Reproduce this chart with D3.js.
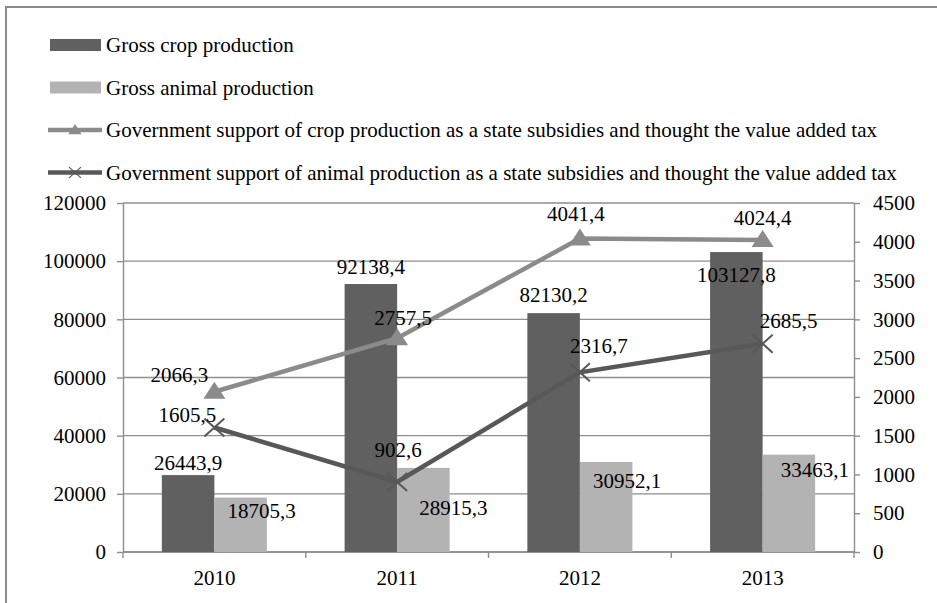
<!DOCTYPE html>
<html>
<head>
<meta charset="utf-8">
<script src="https://cdn.jsdelivr.net/npm/d3@7"></script>
<style>
  body { margin: 0; background: #fff; }
</style>
</head>
<body>
<div id="chart"></div>
<script>
// data
const years = ["2010", "2011", "2012", "2013"];
const grossCrop = [26443.9, 92138.4, 82130.2, 103127.8];
const grossAnimal = [18705.3, 28915.3, 30952.1, 33463.1];
const supportCrop = [2066.3, 2757.5, 4041.4, 4024.4];
const supportAnimal = [1605.5, 902.6, 2316.7, 2685.5];
const leftTicks = [0, 20000, 40000, 60000, 80000, 100000, 120000];
const rightTicks = [0, 500, 1000, 1500, 2000, 2500, 3000, 3500, 4000, 4500];
const legendNames = [
  "Gross crop production",
  "Gross animal production",
  "Government support of crop production as a state subsidies and thought the value added tax",
  "Government support of animal production as a state subsidies and thought the value added tax"
];

// label nudges (dx, dy) the way they sit in the picture
const cropBarNudge = [[0, -5], [0, -10], [0, -11], [0, 30]];
const animalBarNudge = [[21, 20], [30, 47], [21, 26], [26, 22]];
const cropLineNudge = [[-35, -10], [6, -13], [-4, -18], [0, -15]];
const animalLineNudge = [[-27, -5], [1, -25], [19, -19], [26, -16]];

const darkBar = "#606060", lightBar = "#b3b3b3";
const cropLineCol = "#8b8b8b", animalLineCol = "#585858";
const gridCol = "#8e8e8e";
const font = "Liberation Serif";

const W = 937, H = 603;
const margin = { top: 203, left: 123, right: 83, bottom: 51 };
const width = W - margin.left - margin.right;
const height = H - margin.top - margin.bottom;
const fs = 21;

const svg = d3.select("#chart").append("svg").attr("width", W).attr("height", H)
  .attr("font-family", font);

// frame
svg.append("path")
  .attr("d", `M6,${H} V7 H${W}`)
  .attr("fill", "none").attr("stroke", "#8a8a8a").attr("stroke-width", 2);

const g = svg.append("g").attr("transform", `translate(${margin.left},${margin.top})`);

const x = d3.scaleBand().domain(years).range([0, width]).padding(0);
const xs = d3.scaleBand().domain(["crop", "animal"]).range([0, x.bandwidth()])
  .paddingInner(0).paddingOuter(0.74);
const yL = d3.scaleLinear().domain([0, 120000]).range([height, 0]);
const yR = d3.scaleLinear().domain([0, 4500]).range([height, 0]);

// grid lines
g.append("g").selectAll("line").data(leftTicks).join("line")
  .attr("x1", 0).attr("x2", width)
  .attr("y1", d => yL(d)).attr("y2", d => yL(d))
  .attr("stroke", gridCol).attr("stroke-width", 1.4);

function styleAxis(ax) {
  ax.attr("font-family", font);
  ax.selectAll("text").attr("font-size", fs).attr("fill", "#000")
    .style("font-family", font);
  ax.selectAll("line, path").attr("stroke", gridCol).attr("stroke-width", 1.4);
}

// left axis
const axL = g.append("g").call(d3.axisLeft(yL).tickValues(leftTicks).tickFormat(d3.format("d"))
  .tickSize(6).tickSizeOuter(0).tickPadding(11));
styleAxis(axL);

// right axis
const axR = g.append("g").attr("transform", `translate(${width},0)`)
  .call(d3.axisRight(yR).tickValues(rightTicks).tickFormat(d3.format("d"))
    .tickSize(6).tickSizeOuter(0).tickPadding(13));
styleAxis(axR);

// bottom axis: ticks on category boundaries
const axB = g.append("g").attr("transform", `translate(0,${height})`);
axB.append("line").attr("x1", 0).attr("x2", width)
  .attr("stroke", gridCol).attr("stroke-width", 1.4);
const bounds = years.map(d => x(d)).concat([width]);
axB.selectAll("line.tk").data(bounds).join("line").attr("class", "tk")
  .attr("x1", d => d).attr("x2", d => d).attr("y1", 0).attr("y2", 6)
  .attr("stroke", gridCol).attr("stroke-width", 1.4);
axB.selectAll("text").data(years).join("text")
  .attr("x", d => x(d) + x.bandwidth() / 2).attr("y", 33)
  .attr("text-anchor", "middle").attr("font-size", fs).style("font-family", font).text(d => d);

// bars
const fmt = v => String(v).replace(".", ",");
const barSets = [
  { key: "crop", vals: grossCrop, col: darkBar, nudge: cropBarNudge },
  { key: "animal", vals: grossAnimal, col: lightBar, nudge: animalBarNudge }
];
barSets.forEach(s => {
  g.append("g").selectAll("rect").data(s.vals).join("rect")
    .attr("x", (d, i) => x(years[i]) + xs(s.key))
    .attr("y", d => yL(d))
    .attr("width", xs.bandwidth())
    .attr("height", d => height - yL(d))
    .attr("fill", s.col);
});

// lines
const lineSets = [
  { vals: supportCrop, col: cropLineCol, marker: "tri", nudge: cropLineNudge },
  { vals: supportAnimal, col: animalLineCol, marker: "x", nudge: animalLineNudge }
];
const cx = i => x(years[i]) + x.bandwidth() / 2;
const line = d3.line().x((d, i) => cx(i)).y(d => yR(d));

function drawMarker(sel, type, col) {
  if (type === "tri") {
    sel.append("path").attr("d", "M0,-10 L11,7 L-11,7 Z").attr("fill", col);
  } else {
    sel.append("path").attr("d", "M-10,-9 L10,9 M-10,9 L10,-9")
      .attr("stroke", col).attr("stroke-width", 2).attr("fill", "none");
  }
}

lineSets.forEach(s => {
  g.append("path").datum(s.vals).attr("d", line)
    .attr("fill", "none").attr("stroke", s.col).attr("stroke-width", 4.5);
  s.vals.forEach((v, i) => {
    const m = g.append("g").attr("transform", `translate(${cx(i)},${yR(v)})`);
    drawMarker(m, s.marker, s.col);
  });
});

// data labels
barSets.forEach(s => {
  g.append("g").selectAll("text").data(s.vals).join("text")
    .attr("x", (d, i) => x(years[i]) + xs(s.key) + xs.bandwidth() / 2 + s.nudge[i][0])
    .attr("y", (d, i) => yL(d) + s.nudge[i][1])
    .attr("text-anchor", "middle").attr("font-size", fs).style("font-family", font)
    .text(d => fmt(d));
});
lineSets.forEach(s => {
  g.append("g").selectAll("text").data(s.vals).join("text")
    .attr("x", (d, i) => cx(i) + s.nudge[i][0])
    .attr("y", (d, i) => yR(d) + s.nudge[i][1])
    .attr("text-anchor", "middle").attr("font-size", fs).style("font-family", font)
    .text(d => fmt(d));
});

// legend
const legend = svg.append("g").attr("transform", "translate(50,45)");
const legendRows = legend.selectAll("g").data(legendNames).join("g")
  .attr("transform", (d, i) => `translate(0,${i * 42.5})`);
legendRows.each(function (d, i) {
  const r = d3.select(this);
  if (i < 2) {
    r.append("rect").attr("x", 0).attr("y", -6).attr("width", 51).attr("height", 12)
      .attr("fill", i === 0 ? darkBar : lightBar);
  } else {
    const s = lineSets[i - 2];
    r.append("line").attr("x1", -2).attr("x2", 52).attr("y1", 0).attr("y2", 0)
      .attr("stroke", s.col).attr("stroke-width", 4.5);
    const m = r.append("g").attr("transform", "translate(25,0) scale(0.6)");
    drawMarker(m, s.marker, s.col);
  }
  r.append("text").attr("x", 56).attr("y", 7).attr("font-size", fs)
    .style("font-family", font).text(d);
});
</script>
</body>
</html>
